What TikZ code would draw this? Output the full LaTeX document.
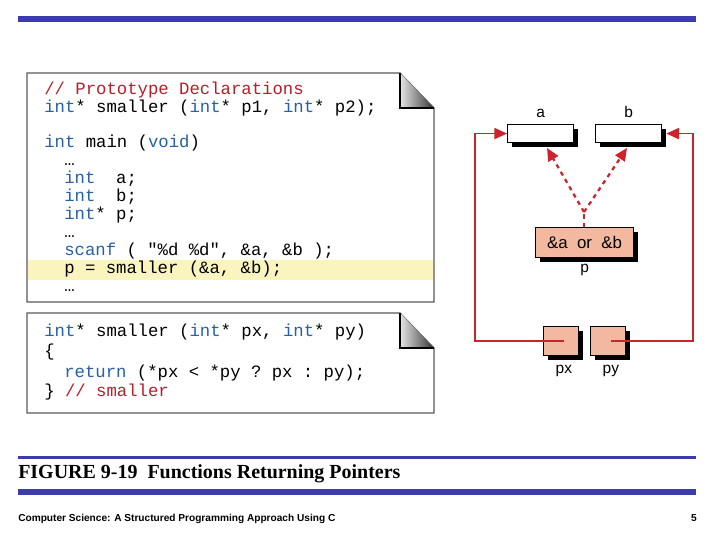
\documentclass[tikz,border=0pt]{standalone}
\usepackage{fontspec}
\setmainfont{Liberation Serif}
\setsansfont{Liberation Sans}
\setmonofont{Liberation Mono}
\usetikzlibrary{arrows.meta,shadows}
\definecolor{barblue}{RGB}{60,60,170}
\definecolor{kw}{RGB}{40,95,165}
\definecolor{cm}{RGB}{185,30,40}
\definecolor{wire}{RGB}{205,35,45}
\definecolor{hl}{RGB}{250,244,190}
\definecolor{salmon}{RGB}{242,185,160}
\newcommand{\kw}[1]{\textcolor{kw}{#1}}
\newcommand{\cm}[1]{\textcolor{cm}{#1}}
\tikzset{
  code/.style={anchor=base west, inner sep=0pt, font=\fontsize{12.3}{14}\selectfont\ttfamily},
  lbl/.style={font=\sffamily\fontsize{11}{13}\selectfont, inner sep=0pt},
  cell/.style={draw=black, line width=0.8pt, inner sep=0pt, anchor=north west,
    drop shadow={shadow xshift=3pt, shadow yshift=-3pt, opacity=1, fill=black}},
  wide/.style={cell, fill=white, minimum width=1.65cm, minimum height=0.45cm},
  small/.style={cell, fill=salmon, minimum width=0.875cm, minimum height=0.725cm},
  wire/.style={draw=wire, line width=1pt},
  tip/.style={-{Triangle[length=9pt,width=8pt]}}
}
\begin{document}
\begin{tikzpicture}[x=0.025cm, y=-0.025cm]
\useasboundingbox (0,0) rectangle (720,540);
% bars
\fill[barblue] (18,16) rectangle (696,22);
\fill[barblue] (18,456) rectangle (696,459);
\fill[barblue] (18,489) rectangle (696,495);
\node[anchor=base west, inner sep=0pt, font=\bfseries\fontsize{14.2}{16}\selectfont] (cap) at (18,478) {FIGURE 9-19\ \ Functions Returning Pointers};
\node[anchor=base west, inner sep=0pt, font=\sffamily\bfseries\fontsize{7.2}{8}\selectfont] (foot) at (18,521) {Computer Science: A Structured Programming Approach Using C};
\node[anchor=base east, inner sep=0pt, font=\sffamily\bfseries\fontsize{7.2}{8}\selectfont] (pg) at (697,521) {5};

% code box 1
\fill[hl] (28,260) rectangle (433,280);
\draw[gray!70!black, line width=0.8pt] (27,73) -- (400,73) -- (434,108) -- (434,302) -- (27,302) -- cycle;
\shade[left color=gray!20, right color=black!80] (400,73) -- (400,108) -- (434,108) -- cycle;
\draw[black, line width=0.8pt] (400,73) -- (400,108) -- (434,108);
\node[code] (l1) at (44,94) {\cm{// Prototype Declarations}};
\node[code] (l2) at (44,112) {\kw{int}* smaller (\kw{int}* p1, \kw{int}* p2);};
\node[code] (l3) at (44,147) {\kw{int} main (\kw{void})};
\node[code] (l4) at (64,165) {…};
\node[code] (l5) at (64,183) {\kw{int}\ \ a;};
\node[code] (l6) at (64,201) {\kw{int}\ \ b;};
\node[code] (l7) at (64,219) {\kw{int}* p;};
\node[code] (l8) at (64,237) {…};
\node[code] (l9) at (64,255) {\kw{scanf} ( "\%d \%d", \&a, \&b );};
\node[code] (l10) at (64,273) {p = smaller (\&a, \&b);};
\node[code] (l11) at (64,291) {…};

% code box 2
\draw[gray!70!black, line width=0.8pt] (27,313) -- (400,313) -- (434,348) -- (434,413) -- (27,413) -- cycle;
\shade[left color=gray!20, right color=black!80] (400,313) -- (400,348) -- (434,348) -- cycle;
\draw[black, line width=0.8pt] (400,313) -- (400,348) -- (434,348);
\node[code] (m1) at (44,336) {\kw{int}* smaller (\kw{int}* px, \kw{int}* py)};
\node[code] (m2) at (44,356) {\{};
\node[code] (m3) at (64,377) {\kw{return} (*px < *py ? px : py);};
\node[code] (m4) at (44,396) {\} \cm{// smaller}};

% memory cells
\node[wide] (a) at (507,124) {};
\node[wide] (b) at (595,124) {};
\node[cell, fill=salmon, minimum width=2.45cm, minimum height=0.75cm,
  font=\sffamily\fontsize{12}{13}\selectfont] (p) at (535,227) {\&a\ \ or\ \ \&b};
\node[small] (px) at (543,326) {};
\node[small] (py) at (590,326) {};
\node[lbl, anchor=south] (la) at (a.north) [yshift=4pt] {a};
\node[lbl, anchor=south] (lb) at (b.north) [yshift=4pt] {b};
\node[lbl, anchor=north] (lp) at (p.south) [yshift=-4pt] {p};
\node[lbl, anchor=north] (lpx) at (px.south) [yshift=-6pt, xshift=2pt] {px};
\node[lbl, anchor=north] (lpy) at (py.south) [yshift=-6pt, xshift=2pt] {py};

% connectors
\coordinate (fork) at (584,212);
\coordinate (ta) at (547,148);
\coordinate (tb) at (627,148);
\draw[wire, dashed, line width=1.6pt] (p.north -| fork) -- (fork);
\draw[wire, dashed, line width=1.6pt, tip] (fork) -- (ta);
\draw[wire, dashed, line width=1.6pt, tip] (fork) -- (tb);
\draw[wire, tip] ([xshift=2pt]px.center) -| (475,0 |- a.west) -- (a.west);
\draw[wire, tip] ([xshift=2pt]py.center) -| (693,0 |- b.west) -- ([xshift=3pt]b.east);
\end{tikzpicture}
\end{document}
